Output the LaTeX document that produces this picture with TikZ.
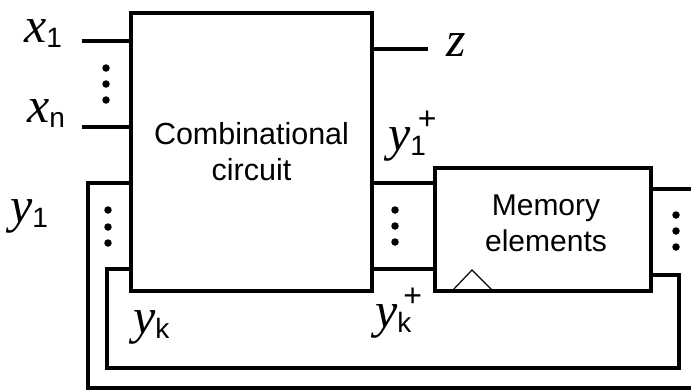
\documentclass[tikz,border=0pt]{standalone}
\usepackage{fontspec}
\setmainfont{Liberation Sans}
\newfontfamily\lserif{Liberation Serif}
\newcommand\mvar[1]{{\lserif\itshape\fontsize{50}{50}\selectfont #1}}
\newcommand\msub[1]{\raisebox{-5pt}{\fontsize{28}{28}\selectfont #1}}
\newcommand\mplus{\kern-8pt\raisebox{21pt}{\fontsize{32}{32}\selectfont +}}
\begin{document}
\begin{tikzpicture}[x=1pt,y=-1pt,
  wire/.style={line width=4pt},
  blk/.style={draw,line width=4pt,rectangle,inner sep=0pt,outer sep=0pt},
  lbl/.style={anchor=base west,inner sep=0pt},
  dot/.style={circle,fill,inner sep=0pt,minimum size=7.5pt}]
\useasboundingbox (0,0) rectangle (691,391);

% blocks
\node[blk,minimum width=241pt,minimum height=278pt,align=center,
      font=\fontsize{30.5}{36}\selectfont] (comb) at (251.5,152) {Combinational\\circuit};
\node[blk,minimum width=216pt,minimum height=123pt] (mem) at (543,229.5) {};
\node[font=\fontsize{30}{36}\selectfont,align=center,inner sep=0pt] (memtxt) at (546,223) {Memory\\elements};

% inputs
\coordinate (x1e) at (82,41);
\coordinate (xne) at (82,127);
\draw[wire] (x1e) -- (x1e -| comb.west);
\draw[wire] (xne) -- (xne -| comb.west);

% output z
\coordinate (ze) at (428,49);
\draw[wire] (ze -| comb.east) -- (ze);

% next-state lines
\coordinate (r1) at (0,183);
\coordinate (r2) at (0,269);
\draw[wire] (comb.east |- r1) -- (mem.west |- r1);
\draw[wire] (comb.east |- r2) -- (mem.west |- r2);

% memory outputs
\coordinate (oute) at (691,189);
\draw[wire] (mem.east |- oute) -- (oute);
\coordinate (ia) at (679,275);
\coordinate (ib) at (679,368);
\coordinate (ic) at (107,368);
\coordinate (id) at (107,269);
\draw[wire] (mem.east |- ia) -- (ia) -- (ib) -- (ic) -- (id) -- (id -| comb.west);
\coordinate (oa) at (88,183);
\coordinate (ob) at (88,388);
\coordinate (oc) at (691,388);
\draw[wire] (oa -| comb.west) -- (oa) -- (ob) -- (oc);

% clock triangle
\coordinate (t1) at (452,291);
\coordinate (t2) at (472,270);
\coordinate (t3) at (493,291);
\draw[line width=1.2pt] (t1) -- (t2) -- (t3);

% dots
\node[dot] (da1) at (106,68) {};
\node[dot] (da2) at (106,84) {};
\node[dot] (da3) at (106,100) {};
\node[dot] (db1) at (108,210) {};
\node[dot] (db2) at (108,227) {};
\node[dot] (db3) at (108,243) {};
\node[dot] (dc1) at (395,210) {};
\node[dot] (dc2) at (395,226) {};
\node[dot] (dc3) at (395,242) {};
\node[dot] (dd1) at (676,215) {};
\node[dot] (dd2) at (676,231) {};
\node[dot] (dd3) at (676,247) {};

% labels
\node[lbl] (lx1) at (24,42) {\mvar{x}\msub{1}};
\node[lbl] (lxn) at (27,122) {\mvar{x}\msub{n}};
\node[lbl] (lz) at (446,56) {\mvar{z}};
\node[lbl] (ly1) at (10,222) {\mvar{y}\msub{1}};
\node[lbl] (ly1p) at (388,150) {\mvar{y}\msub{1}\mplus};
\node[lbl] (lyk) at (133,333) {\mvar{y}\msub{k}};
\node[lbl] (lykp) at (375,327) {\mvar{y}\msub{k}\mplus};
\end{tikzpicture}
\end{document}
